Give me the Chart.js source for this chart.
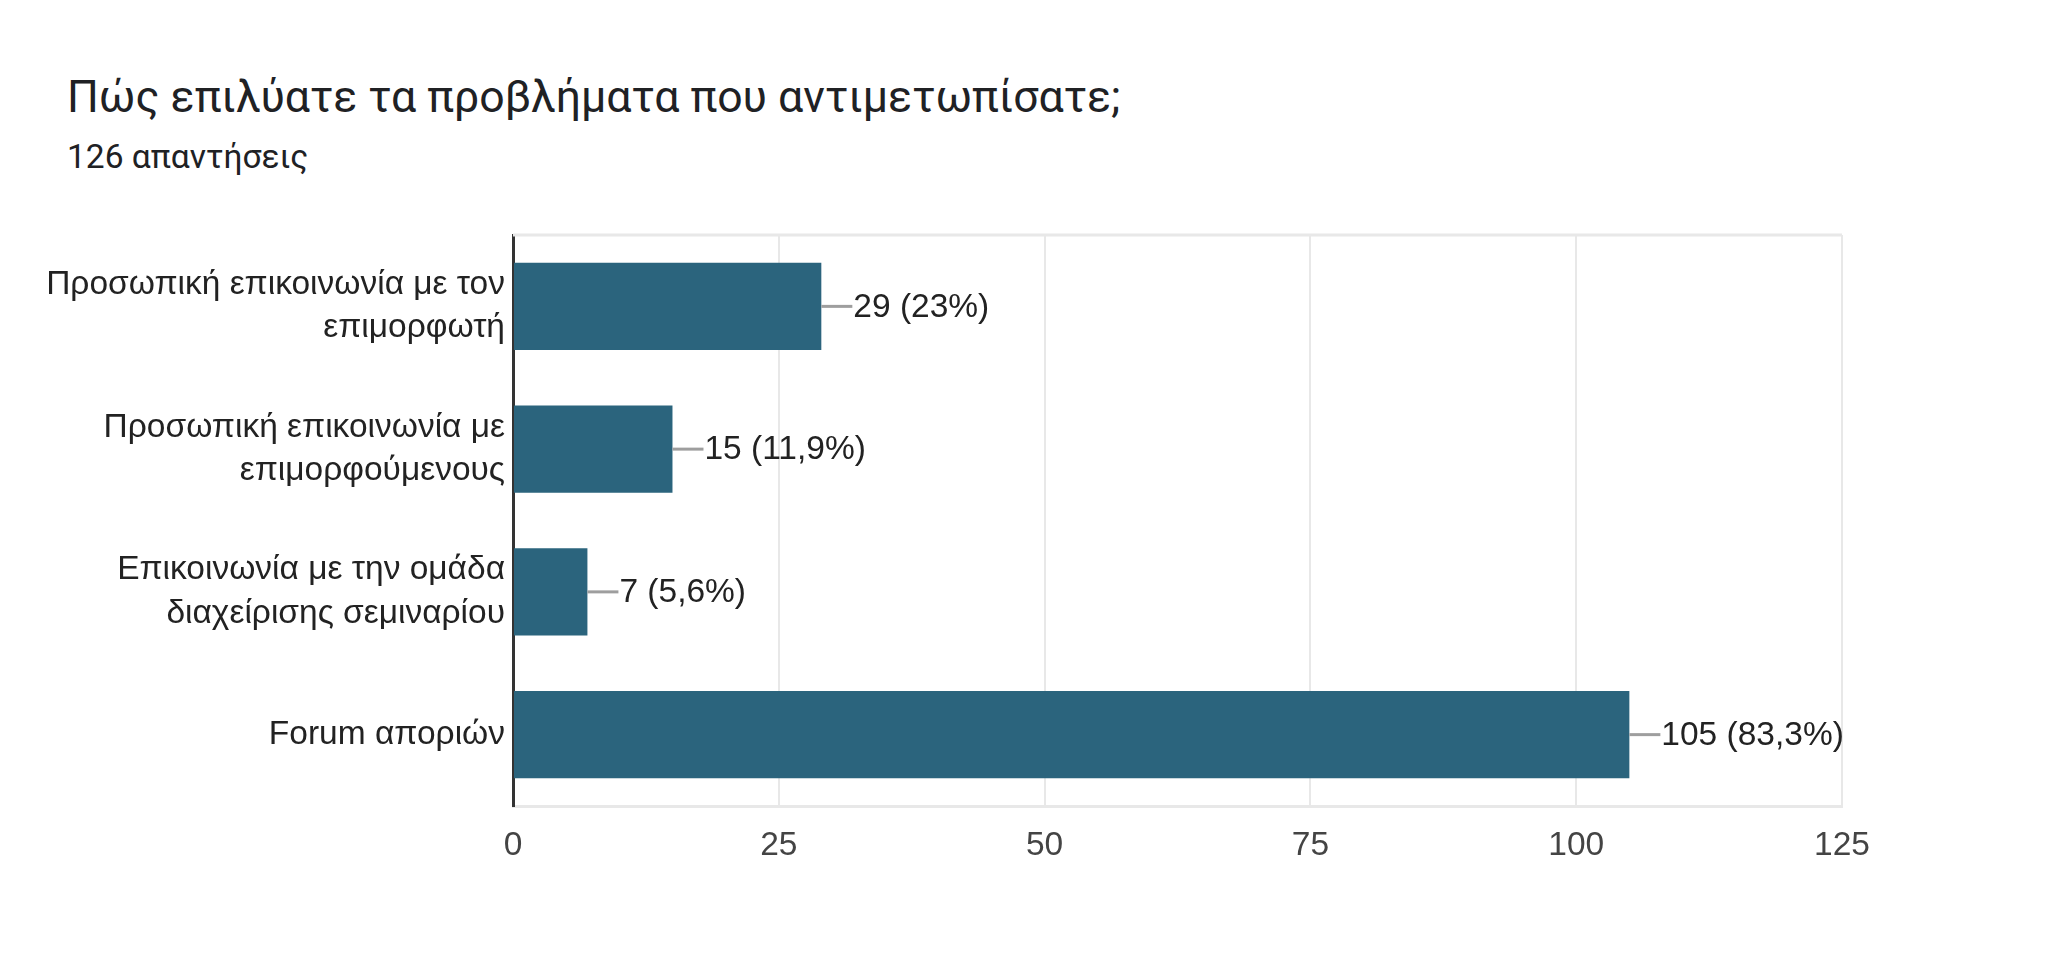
<!DOCTYPE html>
<html>
<head>
<meta charset="utf-8">
<script src="https://cdn.jsdelivr.net/npm/chart.js@4"></script>
<style>
    html, body { margin: 0; padding: 0; background: #fff; }
    .wrap { position: relative; width: 2048px; height: 974px; }
    .title { position: absolute; left: 67px; top: 71px; font: 44.6px Roboto, sans-serif; color: #202124; white-space: nowrap; }
    .subtitle { position: absolute; left: 67px; top: 137px; font: 33.5px Roboto, sans-serif; color: #202124; white-space: nowrap; }
    canvas { position: absolute; left: 0; top: 0; }
</style>
</head>
<body>
<div class="wrap">
    <div class="title">Πώς επιλύατε τα προβλήματα που αντιμετωπίσατε;</div>
    <div class="subtitle">126 απαντήσεις</div>
    <canvas id="chart" width="2048" height="974"></canvas>
</div>
<script>
// Δεδομένα του γραφήματος
const categories = [
    ['Προσωπική επικοινωνία με τον', 'επιμορφωτή'],
    ['Προσωπική επικοινωνία με', 'επιμορφούμενους'],
    ['Επικοινωνία με την ομάδα', 'διαχείρισης σεμιναρίου'],
    ['Forum αποριών']
];
const counts = [29, 15, 7, 105];
const percents = [23, 11.9, 5.6, 83.3];
const xTicks = [0, 25, 50, 75, 100, 125];

const labelFont = { family: "'Liberation Sans', Arial, sans-serif", size: 33.5 };

// Πάνω πλευρά του πλαισίου
const frame = {
    id: 'frame',
    beforeDatasetsDraw(chart) {
        const a = chart.chartArea, ctx = chart.ctx;
        ctx.save();
        ctx.strokeStyle = '#e8e8e8';
        ctx.lineWidth = 3;
        ctx.beginPath();
        ctx.moveTo(a.left, a.top);
        ctx.lineTo(a.right, a.top);
        ctx.stroke();
        ctx.restore();
    }
};

// Ετικέτες τιμών με μικρή γραμμή οδηγό
const valueLabels = {
    id: 'valueLabels',
    afterDatasetsDraw(chart) {
        const ctx = chart.ctx;
        const meta = chart.getDatasetMeta(0);
        ctx.save();
        ctx.font = `${labelFont.size}px ${labelFont.family}`;
        ctx.textBaseline = 'middle';
        ctx.textAlign = 'left';
        meta.data.forEach((bar, i) => {
            ctx.strokeStyle = '#9e9e9e';
            ctx.lineWidth = 3;
            ctx.beginPath();
            ctx.moveTo(bar.x, bar.y);
            ctx.lineTo(bar.x + 31, bar.y);
            ctx.stroke();
            const pct = String(percents[i]).replace('.', ',');
            ctx.fillStyle = '#222';
            ctx.fillText(`${counts[i]} (${pct}%)`, bar.x + 32, bar.y + 1);
        });
        ctx.restore();
    }
};

new Chart(document.getElementById('chart').getContext('2d'), {
    type: 'bar',
    data: {
        labels: categories,
        datasets: [{
            data: counts,
            backgroundColor: '#2b647d',
            borderWidth: 0,
            categoryPercentage: 1,
            barPercentage: 0.61
        }]
    },
    options: {
        indexAxis: 'y',
        responsive: false,
        animation: false,
        layout: { padding: { left: 0, right: 206, top: 235, bottom: 98 } },
        plugins: {
            legend: { display: false },
            tooltip: { enabled: false }
        },
        scales: {
            x: {
                min: 0,
                max: 125,
                afterBuildTicks(axis) { axis.ticks = xTicks.map(v => ({ value: v })); },
                afterFit(axis) { axis.height = 70; },
                grid: { color: '#e8e8e8', lineWidth: 2, drawTicks: false },
                border: { color: '#e8e8e8', width: 3 },
                ticks: { color: '#444', font: labelFont, padding: 20 }
            },
            y: {
                afterFit(axis) { axis.width = 513; },
                grid: { display: false, drawTicks: false },
                border: { color: '#333', width: 3 },
                ticks: { color: '#222', font: { ...labelFont, lineHeight: 1.3 }, padding: 8 }
            }
        }
    },
    plugins: [frame, valueLabels]
});
</script>
</body>
</html>
